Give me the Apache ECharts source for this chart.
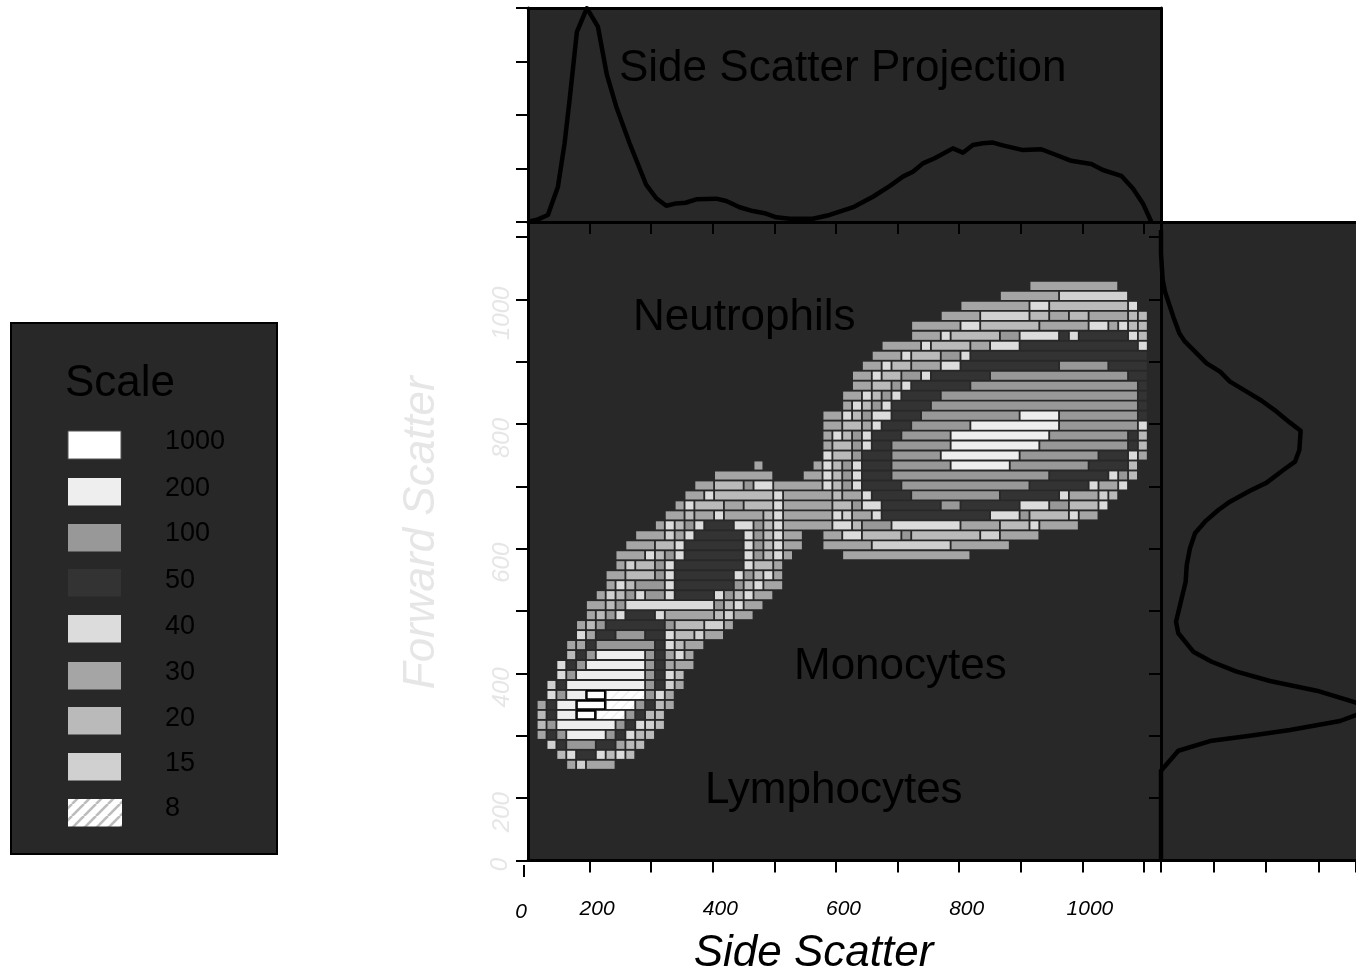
<!DOCTYPE html>
<html>
<head>
<meta charset="utf-8">
<style>html,body{margin:0;padding:0;background:#fff}#c{width:1356px;height:972px}</style>
<script src="https://cdn.jsdelivr.net/npm/echarts@6/dist/echarts.min.js"></script>
</head>
<body>
<div id="c"></div>
<script>
// ---------- data ----------
const legendLabels = ['1000','200','100','50','40','30','20','15','8'];
const levelKeys    = ['a','b','c','d','e','f','g','h','i'];
const xTicks  = [200,300,400,500,600,700,800,900,1000,1100];
const xLabels = [200,400,600,800,1000];
const yTicks  = [100,200,300,400,500,600,700,800,900,1000,1100];
const yLabels = [200,400,600,800,1000];
const sideX = [99.8,113.4,132.3,148.6,159.4,167.5,179.4,195.6,213.5,228.1,243.3,264.9,292,308.3,324.5,340.7,355.8,373.2,405.7,421.9,443.5,465.1,484.1,503.1,524.7,562.5,589.6,622.1,630.2,659.9,687,708.6,724.8,741.1,760.1,789.8,806,822.2,838.5,854.7,870.9,903.4,933.2,957.6,981.9,1014.4,1033.3,1063.1,1082,1098.2,1111.8];
const sideY = [0.1,0.9,3.3,16.5,36.8,57,88.9,99.9,91.3,68.7,53.9,36.8,17.3,11.1,7.6,8.7,9,10.6,10.9,9.8,6.9,5.1,4.1,2.2,1.5,1.5,3.3,6.4,7.2,11.8,16.8,21.2,23.5,27.4,29.8,34.4,32.4,36,36.8,37.1,35.8,33.6,34,31.3,28.6,27.1,24.3,21.6,15.7,8.7,0.1];
const fwdCount = [0,0,3.2,7.6,23.4,34.9,45.7,64.8,87,112.4,131.4,163.2,191.8,220.3,245.7,266,263.5,255.2,233,201.3,169.5,131.4,109.2,83.8,64.8,55.2,49,47,39.4,28.6,33,61.5,96.6,144.2,207.6,296.6,371.4,420,371.4,341,245.7,169.5,96.6,33,0,0];
const fwdValue = [1111,1073.8,1031,1012.3,972.2,945.5,932,916,897.4,884,868,851.9,837.4,819.8,802.2,789.3,758.4,739.6,726.3,706,693.1,675.5,662.1,643.4,624.8,600.8,573.9,547.2,520.5,483,464.4,434.9,418.8,402.8,387.9,372.3,353.1,344,333.2,323.7,309.3,300.2,292.1,276,244,100];
const binOriginX = 115.6, binOriginY = 247, binSize = 16;
// density runs per forward-scatter bin, bottom row first: "firstBin-lastBin+level"
const cellRows = [
'3f 4h 5-7f',
'2g 3e 4-5d 6e 7g 8e 9g',
'1h 2d 3-5c 6-7d 8f 9g 10g',
'0f 1d 2c 3-6b 7c 8d 9e 10g 11g',
'0g 1c 2-7b 8c 9d 10e 11h 12g',
'0g 1d 2-3b 4-5a 6-8i 9c 10d 11g 12g',
'0f 1d 2-3b 4-6a 7-9i 10c 11d 12g 13f',
'1e 2c 3-4b 5-6a 7-10i 11c 12e 13f',
'1h 2d 3-10b 11c 12d 13h 14f',
'2e 3c 4-10b 11c 12d 13e 14g',
'2e 3d 4c 5-10b 11c 12d 13f 14-15f',
'3g 4d 5c 6-10b 11c 12d 13f 14e 15f',
'3f 4f 5d 6-11c 12d 13e 14g 15-16f',
'4e 5f 6-7d 8-10c 11-12d 13e 14-15g 16h 17-18f',
'4f 5g 6c 7-12d 13c 14-16g 17-18h 19f',
'5f 6g 7c 8e 9-11d 12e 13-17f 18g 19h 20-21f',
'5-6f 7g 8c 9-17e 18c 19g 20e 21-22f',
'6f 7h 8g 9c 10e 11-12c 13e 14-17d 18e 19c 20g 21e 22-23f',
'7f 8e 9g 10-12c 13e 14-19d 20c 21g 22e 23-24f',
'7-8f 9-11g 12c 13e 14-19d 20e 21c 22g 23e 24f',
'8f 9h 10-11g 12c 13e 14-20d 21e 22-23g 24f',
'8-10f 11e 12g 13c 14e 15-20d 21e 22c 23g 24e 25f 31-43f',
'9-11f 12-13g 14e 15-20d 21e 22c 23g 24e 25-26f 29-33f 34-41h 42-47f',
'10-12f 13h 14f 15e 16-20d 21e 22c 23g 24e 25-26f 29-30f 31-32e 33-36g 37c 38-44g 45-46h 47-50f',
'12f 13e 14g 15c 16e 17-19d 20-21e 22c 23g 24e 25-29f 30-31e 32g 33-35c 36-42e 43-46f 47-49g 50e 51-54f',
'13-14f 15g 16-17f 18e 19-22f 23g 24e 25-29f 30e 31h 32-33f 34e 35-45d 46-48e 49c 50-53g 54e 55-56f',
'14f 15e 16-18g 19-20f 21-23g 24e 25-29f 30-31g 32c 33-34e 35-40d 41-42c 43-48d 49-51e 52-53c 54-56g 57e',
'15-16f 17e 18-23g 24e 25-29f 30g 31-32f 33e 34-37d 38-46c 47-52d 53e 54-56f 57h 58g',
'16-17f 18-20g 21c 22-23e 24-28f 29e 30g 31c 32e 33-36d 37-49c 50-55d 56e 57-58f 59e',
'18-23f 27-28f 29e 30g 31c 32e 33-35d 36-51c 52-57d 58e 59c 60g',
'22f 28f 29e 30g 31c 32e 33-35d 36-41c 42-47b 48-55c 56-59d 60g',
'29e 30-31g 32c 33-35d 36-40c 41-48b 49-56c 57-59d 60e 61f',
'29f 30-31g 32c 33e 34-35d 36-41c 42-50b 51-59c 60d 61g',
'29f 30e 31g 32c 33e 34-36d 37-41c 42-51b 52-59c 60d 61g',
'29-30f 31-32g 33f 34e 35-37d 38-43c 44-52b 53-60c 61e',
'29-30f 31e 32g 33c 34-35e 36-38d 39-48c 49-52b 53-60c 61d',
'31f 32e 33g 34c 35e 36-39d 40-60c 61d',
'31-32f 33e 34g 35c 36e 37-40d 41-60c 61d',
'32-33f 34-35g 36c 37e 38-43d 44-60c 61d',
'32-33f 34e 35-36g 37-38c 39e 40-45d 46-59c 60-61d',
'33-34f 35e 36-37g 38-40f 41-42e 43-52d 53-57c 58-61d',
'34-36f 37e 38-40g 41-42c 43e 44-61d',
'35-38f 39e 40-43g 44-45f 46-48e 49-60d 61e',
'38-40f 41e 42-46g 47-48c 49-52e 53d 54e 55-59d 60e 61g',
'38-42f 43-44e 45-50g 51-55f 56-57e 58f 59e 60g 61g',
'41-44f 45-49h 50-51g 52-53f 54-55g 56-59f 60g 61g',
'43-49f 50-51e 52-59g 60e',
'47-52f 53-59h',
'50-58f'
];

// ---------- styling ----------
const FONT = '"Liberation Sans", Arial, sans-serif';
const PANEL = '#282828';
const levelColors = {a:'#ffffff',b:'#eeeeee',c:'#989898',d:'#333333',e:'#dcdcdc',f:'#a5a5a5',g:'#bababa',h:'#d0d0d0'};

function hatch(stripe, size, lw){
  const c = document.createElement('canvas'); c.width = size; c.height = size;
  const g = c.getContext('2d');
  g.fillStyle = '#ffffff'; g.fillRect(0,0,size,size);
  g.strokeStyle = stripe; g.lineWidth = lw;
  for (let o=-size; o<=size; o+=size){ g.beginPath(); g.moveTo(o,size); g.lineTo(o+size,0); g.stroke(); }
  return {image:c, repeat:'repeat'};
}
const cellHatch = hatch('#efefef', 10, 1.5);
const keyHatch  = hatch('#bcbcbc', 12, 2.6);

const cellData = [];
cellRows.forEach((row, r) => row.split(' ').forEach(tok => {
  const m = tok.match(/^(\d+)(?:-(\d+))?([a-i])$/);
  const a = +m[1], b = m[2] ? +m[2] : a;
  cellData.push([binOriginX + binSize*a, binOriginY + binSize*r, binOriginX + binSize*b + 13, binOriginY + binSize*r + 13, levelKeys.indexOf(m[3])]);
}));

function renderCell(params, api){
  const p0 = api.coord([api.value(0), api.value(3)]);
  const p1 = api.coord([api.value(2), api.value(1)]);
  const key = levelKeys[api.value(4)];
  const style = key === 'i' ? {fill: cellHatch} : {fill: levelColors[key]};
  if (key === 'a') { style.stroke = '#000'; style.lineWidth = 1.6; }
  return {type:'rect', shape:{x:p0[0], y:p0[1], width:p1[0]-p0[0], height:p1[1]-p0[1]}, style};
}

// ---------- frame ----------
const gBase = {show:true, backgroundColor:PANEL, borderWidth:0, outerBoundsMode:'none', containLabel:false};
const gMain = Object.assign({left:528, top:222, width:633, height:638.5}, gBase);
const gTop  = Object.assign({left:528, top:8,   width:633, height:214}, gBase);
const gSide = Object.assign({left:1161,top:222, width:195, height:638.5}, gBase);
const XMIN = 100, XMAX = 1127.6, YMIN = 100, YMAX = 1124;
const line = w => ({show:true, onZero:false, lineStyle:{color:'#000', width:w}});
const none = {show:false};

const legendSwatchTop = [431,478,524,569,615,662,707,753,799];
const legendTextY     = [442,488.5,534,581,627,673,719,764,809];
const graphics = [
  {type:'rect', z:1, shape:{x:11,y:323,width:266,height:531}, style:{fill:PANEL, stroke:'#000', lineWidth:2}},
  {type:'text', z:5, style:{x:65,y:384,text:'Scale',font:'44px '+FONT,fill:'#000',textVerticalAlign:'middle'}}
];
legendLabels.forEach((t,i) => {
  const k = levelKeys[i];
  graphics.push({type:'rect', z:3, shape:{x:68,y:legendSwatchTop[i],width:i===8?54:53,height:i===0?28:27.5},
    style: k==='i' ? {fill:keyHatch} : (k==='a' ? {fill:'#fff',stroke:'#555',lineWidth:1} : {fill:levelColors[k]})});
  graphics.push({type:'text', z:5, style:{x:165,y:legendTextY[i],text:t,font:'27px '+FONT,fill:'#000',textVerticalAlign:'middle'}});
});
[['Side Scatter Projection',619,69],['Neutrophils',633,318],['Monocytes',794,667],['Lymphocytes',705,791]].forEach(a => {
  graphics.push({type:'text', z:50, style:{x:a[1],y:a[2],text:a[0],font:'44px '+FONT,fill:'#000',textVerticalAlign:'middle'}});
});
graphics.push({type:'text', z:5, style:{x:521,y:912,text:'0',font:'italic 21px '+FONT,fill:'#000',textAlign:'center',textVerticalAlign:'middle'}});
graphics.push({type:'text', z:5, x:500, y:864.5, rotation:Math.PI/2, style:{x:0,y:0,text:'0',font:'italic 24px '+FONT,fill:'#e6e6e6',textAlign:'center',textVerticalAlign:'middle'}});
graphics.push({type:'line', z:5, shape:{x1:524,y1:865,x2:524,y2:877}, style:{stroke:'#000',lineWidth:2}});

const option = {
  animation:false,
  backgroundColor:'#ffffff',
  grid:[gMain,gTop,gSide],
  xAxis:[
    {gridIndex:0,type:'value',position:'bottom',min:XMIN,max:XMAX,interval:100,splitLine:none,axisLine:line(3),
     axisTick:{show:true,length:12,customValues:xTicks,lineStyle:{color:'#000',width:2}},
     axisLabel:{show:true,customValues:xLabels,margin:38,padding:[0,0,0,15],color:'#000',fontStyle:'italic',fontSize:21,fontFamily:FONT,formatter:v=>String(v)},
     name:'Side Scatter',nameLocation:'middle',nameGap:71,
     nameTextStyle:{fontStyle:'italic',fontSize:44,fontFamily:FONT,color:'#000',padding:[0,62,0,0]}},
    {gridIndex:0,type:'value',position:'top',min:XMIN,max:XMAX,interval:100,splitLine:none,axisLine:line(3),
     axisTick:{show:true,inside:true,length:12,customValues:xTicks,lineStyle:{color:'#000',width:2}},axisLabel:none},
    {gridIndex:1,type:'value',position:'top',min:XMIN,max:XMAX,interval:100,splitLine:none,axisLine:line(3),axisTick:none,axisLabel:none},
    {gridIndex:2,type:'value',position:'bottom',min:0,max:371.4,interval:100,splitLine:none,axisLine:line(3),
     axisTick:{show:true,length:12,lineStyle:{color:'#000',width:2}},axisLabel:none},
    {gridIndex:2,type:'value',position:'top',min:0,max:371.4,interval:100,splitLine:none,axisLine:line(3),axisTick:none,axisLabel:none}
  ],
  yAxis:[
    {gridIndex:0,type:'value',position:'left',min:YMIN,max:YMAX,interval:100,splitLine:none,axisLine:line(3),
     axisTick:{show:true,length:12,customValues:yTicks,lineStyle:{color:'#000',width:2}},
     axisLabel:{show:true,customValues:yLabels,rotate:90,margin:14,padding:[0,28,0,0],color:'#e6e6e6',fontStyle:'italic',fontSize:24,fontFamily:FONT,
       formatter:v=>String(v)},
     name:'Forward Scatter',nameLocation:'middle',nameGap:84,nameRotate:90,
     nameTextStyle:{fontStyle:'italic',fontSize:44,fontFamily:FONT,color:'#e6e6e6',padding:[0,0,0,17]}},
    {gridIndex:0,type:'value',position:'right',min:YMIN,max:YMAX,interval:100,splitLine:none,axisLine:line(3),
     axisTick:{show:true,inside:true,length:12,customValues:yTicks,lineStyle:{color:'#000',width:2}},axisLabel:none},
    {gridIndex:1,type:'value',position:'left',min:0,max:100,interval:25,splitLine:none,axisLine:line(3),
     axisTick:{show:true,length:12,lineStyle:{color:'#000',width:2}},axisLabel:none},
    {gridIndex:1,type:'value',position:'right',min:0,max:100,interval:25,splitLine:none,axisLine:line(3),axisTick:none,axisLabel:none},
    {gridIndex:2,type:'value',position:'left',min:YMIN,max:YMAX,interval:100,splitLine:none,axisLine:line(3),axisTick:none,axisLabel:none}
  ],
  series:[
    {type:'custom',xAxisIndex:0,yAxisIndex:0,renderItem:renderCell,data:cellData,encode:{x:[0,2],y:[1,3]},clip:false,z:3},
    {type:'line',xAxisIndex:2,yAxisIndex:2,data:sideX.map((x,i)=>[x,sideY[i]]),showSymbol:false,clip:false,z:10,
     lineStyle:{color:'#000',width:4.5,join:'round'}},
    {type:'line',xAxisIndex:3,yAxisIndex:4,data:fwdCount.map((x,i)=>[x,fwdValue[i]]),showSymbol:false,clip:false,z:10,
     lineStyle:{color:'#000',width:4.5,join:'round'}}
  ],
  graphic:graphics
};
echarts.init(document.getElementById('c'),null,{renderer:'canvas'}).setOption(option);
</script>
</body>
</html>
